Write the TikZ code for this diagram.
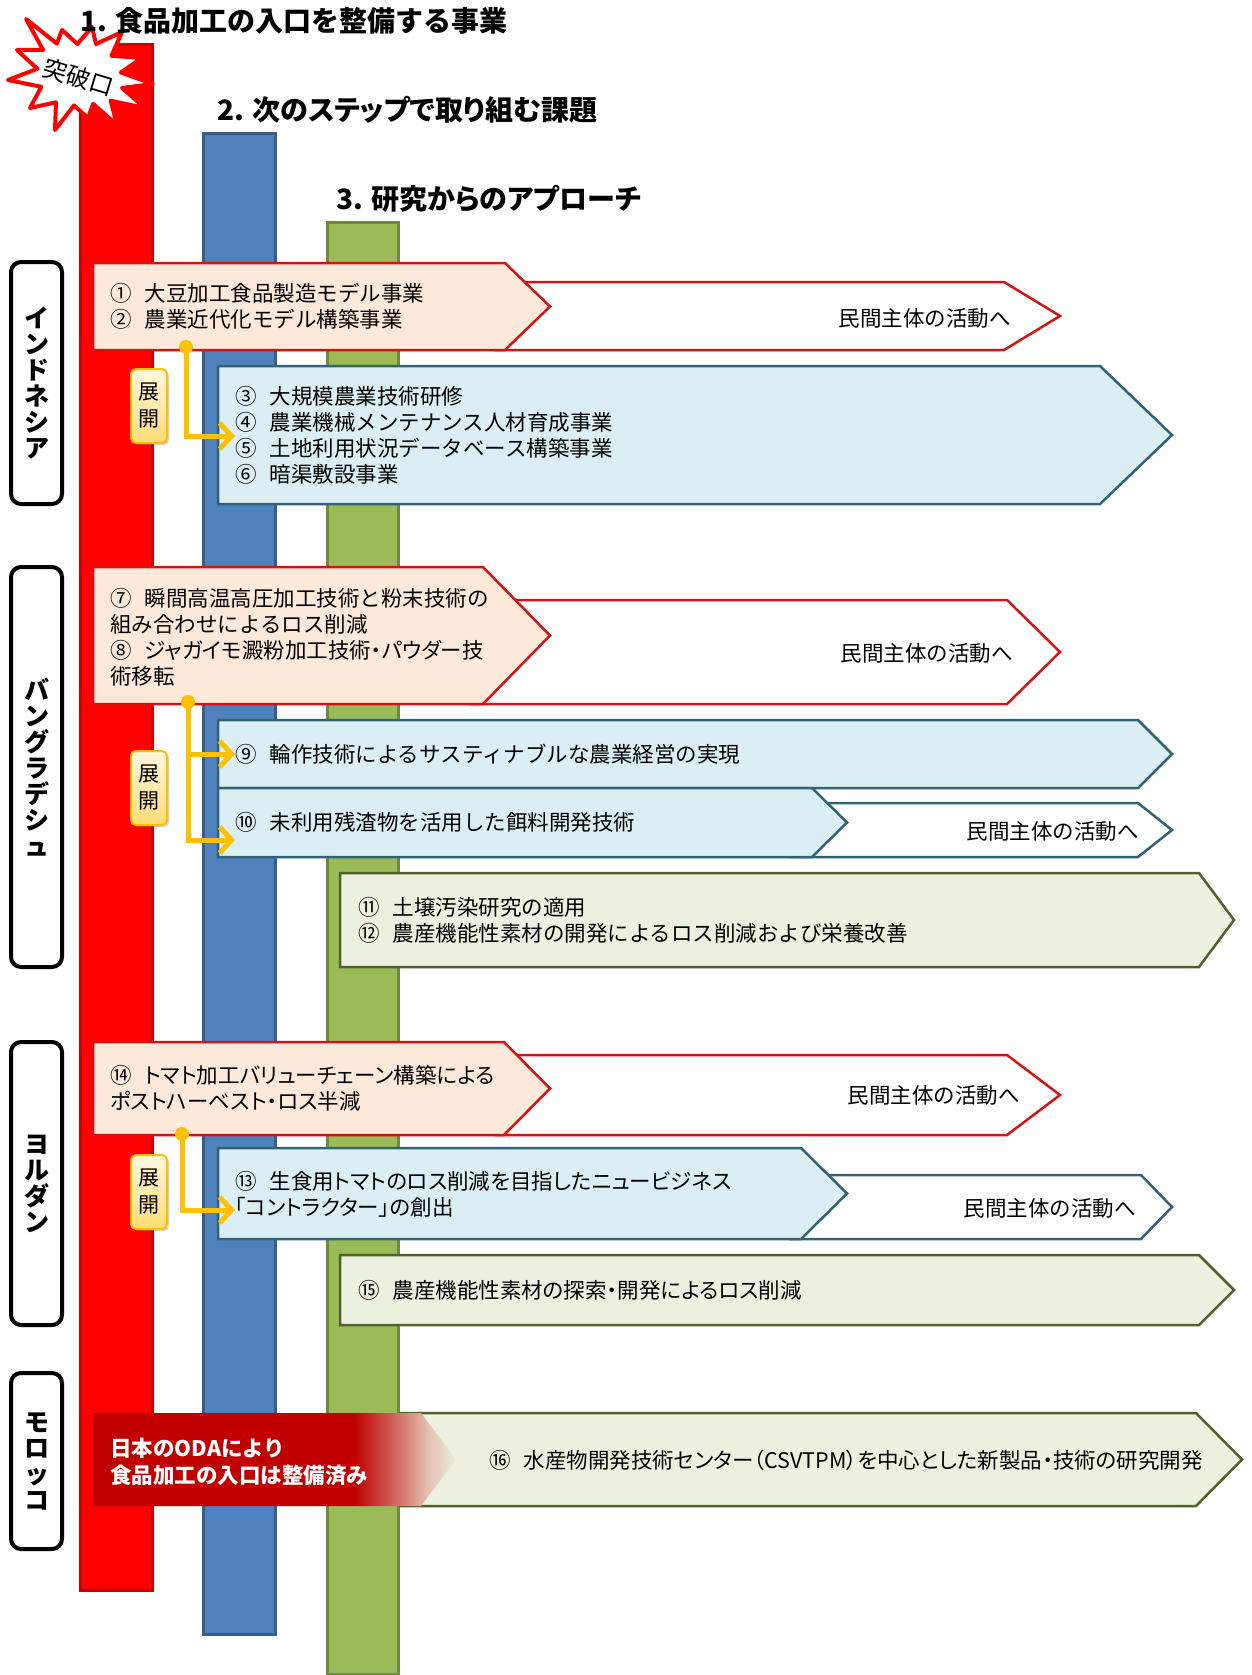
\documentclass[tikz,border=0pt]{standalone}
\usepackage{fontspec}
\setmainfont{Noto Sans CJK JP}
\newfontfamily\pf{Noto Sans CJK JP}[RawFeature=+palt]
\usetikzlibrary{arrows.meta,shadows}

\definecolor{barred}{RGB}{255,0,0}
\definecolor{barredD}{RGB}{200,0,0}
\definecolor{barblue}{RGB}{79,129,189}
\definecolor{barblueD}{RGB}{56,93,138}
\definecolor{bargreen}{RGB}{155,187,89}
\definecolor{bargreenD}{RGB}{113,137,63}
\definecolor{pinkF}{RGB}{253,233,217}
\definecolor{pinkD}{RGB}{210,20,20}
\definecolor{lblueF}{RGB}{219,238,244}
\definecolor{lblueD}{RGB}{49,99,118}
\definecolor{lgreenF}{RGB}{235,241,222}
\definecolor{lgreenD}{RGB}{79,98,40}
\definecolor{amber}{RGB}{255,192,0}
\definecolor{odared}{RGB}{192,0,0}
\definecolor{odamid}{RGB}{210,110,100}
\definecolor{odalight}{RGB}{228,190,175}
\definecolor{odaend}{RGB}{235,238,220}

\pgfdeclarehorizontalshading{odafade}{100bp}{color(0bp)=(odared); color(61bp)=(odared); color(67bp)=(odamid); color(71bp)=(odalight); color(75bp)=(odaend); color(100bp)=(odaend)}

\newcommand\pent[6]{\filldraw[#1] (#2,#3) -- (#5,#3) -- (#6,{(#3+#4)/2}) -- (#5,#4) -- (#2,#4) -- cycle;}
\newcommand\gp{\hspace{0.6em}}

\tikzset{
  bar/.style={line width=3},
  titletxt/.style={anchor=west, inner sep=0pt, font=\fontsize{28}{30}\selectfont\bfseries},
  country/.style={draw=black, line width=4, rounded corners=10, fill=white, minimum width=51, align=center, inner sep=0pt, font=\fontsize{25}{26}\selectfont\bfseries},
  pinkp/.style={fill=pinkF, draw=pinkD, line width=2.5},
  whitep/.style={fill=white, draw=pinkD, line width=2.5},
  whitebp/.style={fill=white, draw=lblueD, line width=2.5},
  bluep/.style={fill=lblueF, draw=lblueD, line width=2.5},
  greenp/.style={fill=lgreenF, draw=lgreenD, line width=2.5},
  txt/.style={anchor=west, inner sep=0pt, align=left, font=\fontsize{21.5}{26}\selectfont},
  rtxt/.style={anchor=east, inner sep=0pt, font=\fontsize{21.5}{26}\selectfont},
  conn/.style={draw=amber, line width=5, -{Straight Barb[length=12pt,width=26pt]}},
  tenkai/.style={draw=amber, line width=2, rounded corners=5, top color=amber!12, bottom color=amber!55, minimum width=36, minimum height=74, inner sep=0pt, align=center, drop shadow={opacity=0.35, shadow xshift=2pt, shadow yshift=-2pt}, font=\fontsize{21}{27}\selectfont},
}

\begin{document}
\begin{tikzpicture}[x=1pt,y=-1pt]
\useasboundingbox (0,0) rectangle (1251,1675);

% bars
\filldraw[bar, fill=barred, draw=barredD] (80,45) rectangle (152,1590);
\filldraw[bar, fill=barblue, draw=barblueD] (203,134) rectangle (275,1634);
\filldraw[bar, fill=bargreen, draw=bargreenD] (327,222) rectangle (398,1674);

% starburst
\filldraw[fill=white, draw=barred, line width=4, line join=round]
 (8,80) -- (37.4,68.8) -- (17,50) -- (43.1,49.9) -- (26,19) -- (56.9,43.7) -- (62,30) -- (77.4,44) -- (92,27) -- (96,44) -- (122,32) -- (111.5,55.8) -- (142,58) -- (120.8,72.5) -- (153,84) -- (122,88) -- (145,108) -- (110.7,100.7) -- (117,125) -- (93.2,103.9) -- (88,118) -- (74,105.4) -- (55,130) -- (56,102.3) -- (30,108) -- (41.4,86.8) -- cycle;
\node[rotate=-17, inner sep=0pt, font=\fontsize{24}{26}\selectfont] (burst) at (79,77) {突破口};

% titles
\node[titletxt] (t1) at (80,21) {1. 食品加工の入口を整備する事業};
\node[titletxt] (t2) at (217,110) {\pf 2. 次のステップで取り組む課題};
\node[titletxt] (t3) at (336,199) {\pf 3. 研究からのアプローチ};

% country boxes
\node[country, minimum height=242] (c1) at (36.5,383) {イ\\ン\\ド\\ネ\\シ\\ア};
\node[country, minimum height=400] (c2) at (36.5,767) {バ\\ン\\グ\\ラ\\デ\\シ\\ュ};
\node[country, minimum height=283] (c3) at (36.5,1183.5) {ヨ\\ル\\ダ\\ン};
\node[country, minimum height=176] (c4) at (36.5,1461) {モ\\ロ\\ッ\\コ};

% ===== Indonesia =====
\pent{whitep}{495}{282}{350}{1004}{1060}
\node[rtxt] (w1) at (1011,318) {民間主体の活動へ};
\pent{pinkp}{93}{263}{350}{505}{550}
\node[txt] (p1) at (110,306.5) {①\gp 大豆加工食品製造モデル事業\\②\gp 農業近代化モデル構築事業};
\pent{bluep}{218}{366}{504}{1100}{1172}
\node[txt] (b1) at (235,435) {③\gp 大規模農業技術研修\\④\gp 農業機械メンテナンス人材育成事業\\⑤\gp 土地利用状況データベース構築事業\\⑥\gp 暗渠敷設事業};

% ===== Bangladesh =====
\pent{whitep}{470}{600}{704}{1007}{1060}
\node[rtxt] (w2) at (1013,653) {民間主体の活動へ};
\pent{pinkp}{93}{567}{704}{483}{550}
\node[txt] (p2) at (110,637) {⑦\gp 瞬間高温高圧加工技術と粉末技術の\\組み合わせによるロス削減\\⑧\gp {\pf ジャガイモ澱粉加工技術・パウダー技}\\術移転};
\pent{bluep}{218}{720}{788}{1138}{1172}
\node[txt] (b2) at (235,754) {⑨\gp 輪作技術によるサスティナブルな農業経営の実現};
\pent{whitebp}{790}{803}{857}{1138}{1172}
\node[rtxt] (w3) at (1139,831) {民間主体の活動へ};
\pent{bluep}{218}{788}{857}{812}{847}
\node[txt] (b3) at (235,822) {⑩\gp 未利用残渣物を活用した餌料開発技術};
\pent{greenp}{340}{873}{967}{1199}{1234}
\node[txt] (g1) at (358,920) {⑪\gp 土壌汚染研究の適用\\⑫\gp 農産機能性素材の開発によるロス削減および栄養改善};

% ===== Jordan =====
\pent{whitep}{495}{1055}{1135}{1007}{1060}
\node[rtxt] (w4) at (1020,1095) {民間主体の活動へ};
\pent{pinkp}{93}{1042}{1135}{504}{550}
\node[txt] (p3) at (110,1088.5) {⑭\gp {\pf トマト加工バリューチェーン構築による}\\{\pf ポストハーベスト・ロス半減}};
\pent{whitebp}{790}{1175}{1239}{1141}{1172}
\node[rtxt] (w5) at (1136,1208) {民間主体の活動へ};
\pent{bluep}{218}{1148}{1239}{801}{847}
\node[txt] (b4) at (235,1194) {⑬\gp {\pf 生食用トマトのロス削減を目指したニュービジネス}\\{\pf 「コントラクター」の創出}};
\pent{greenp}{340}{1255}{1325}{1199}{1234}
\node[txt] (g2) at (358,1290) {⑮\gp {\pf 農産機能性素材の探索・開発によるロス削減}};

% ===== Morocco =====
\pent{greenp}{400}{1413}{1506}{1196}{1242}
\shade[shading=odafade] (93,1413) -- (421,1413) -- (456,1459.5) -- (421,1506) -- (93,1506) -- cycle;
\node[txt, text=white, font=\fontsize{21.5}{27}\selectfont\bfseries] (oda) at (110,1461.5) {日本のODAにより\\食品加工の入口は整備済み};
\node[txt] (g3) at (489,1460) {⑯\gp {\pf 水産物開発技術センター（CSVTPM）を中心とした新製品・技術の研究開発}};

% ===== connectors =====
\coordinate (d1) at (186,347);
\coordinate (e1) at (235,436);
\draw[conn] (d1) |- (e1);
\fill[amber] (d1) circle (7);

\coordinate (d2) at (188,702);
\coordinate (e2a) at (235,754);
\coordinate (e2b) at (235,840);
\draw[conn] (d2) |- (e2b);
\draw[conn] (d2 |- e2a) -- (e2a);
\fill[amber] (d2) circle (7);

\coordinate (d3) at (182,1134);
\coordinate (e3) at (235,1210);
\draw[conn] (d3) |- (e3);
\fill[amber] (d3) circle (7);

% tenkai boxes
\node[tenkai] (k1) at (149,406) {展\\開};
\node[tenkai] (k2) at (149,788) {展\\開};
\node[tenkai] (k3) at (149,1192) {展\\開};
\end{tikzpicture}
\end{document}
